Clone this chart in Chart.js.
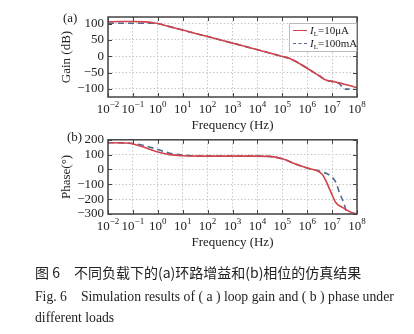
<!DOCTYPE html>
<html>
<head>
<meta charset="utf-8">
<script src="https://cdn.jsdelivr.net/npm/chart.js@4.4.1/dist/chart.umd.min.js"></script>
<style>
  body { margin: 0; background: #fff; width: 414px; height: 334px; position: relative; overflow: hidden; font-family: "Liberation Serif", serif; color: #222; }
  canvas { position: absolute; left: 0; }
  #gain-chart { top: 0; }
  #phase-chart { top: 128px; }
  .panel { position: absolute; font-size: 13px; }
  .legend { position: absolute; left: 289px; top: 23px; width: 66px; height: 27px; border: 1px solid #bbb; background: #fff; font-size: 11px; line-height: 12px; }
  .legend div { position: relative; height: 12.5px; white-space: nowrap; padding-left: 20px; }
  .legend span.s { position: absolute; left: 3px; top: 6px; width: 14px; border-top: 1.5px solid #d2434b; }
  .legend span.d { border-top: 1.5px dashed #4d6c8e; }
  .legend sub { font-size: 7px; vertical-align: -2px; line-height: 0; }
  .cap { position: absolute; left: 35px; white-space: nowrap; }
  .cn { top: 262px; font-family: "Noto Sans CJK SC", sans-serif; font-size: 14px; }
  .en { font-size: 13.7px; }
</style>
</head>
<body>
<canvas id="gain-chart" width="414" height="135"></canvas>
<canvas id="phase-chart" width="414" height="124"></canvas>
<div class="panel" style="left:63px;top:10px;">(a)</div>
<div class="panel" style="left:67px;top:129px;">(b)</div>
<div class="legend">
  <div><span class="s"></span><i>I</i><sub>L</sub>=10μA</div>
  <div><span class="s d"></span><i>I</i><sub>L</sub>=100mA</div>
</div>
<div class="cap cn">图 6　不同负载下的(a)环路增益和(b)相位的仿真结果</div>
<div class="cap en" style="top:288px;">Fig. 6　Simulation results of ( a ) loop gain and ( b ) phase under</div>
<div class="cap en" style="top:310px;">different loads</div>
<script>
// decades shown on the frequency axis
const decades = [1e-2, 1e-1, 1e0, 1e1, 1e2, 1e3, 1e4, 1e5, 1e6, 1e7, 1e8];

// loop gain (dB)
const gainFreqA = [0.01, 0.03, 0.1, 0.3, 0.6, 1, 2, 10, 100, 1e3, 1e4, 1e5, 2e5, 1e6, 3e6, 5.6e6, 1.4e7, 2.5e7, 5e7, 1e8];
const gainA = [105, 106, 106, 105, 103, 100, 94, 80, 60, 40, 20, -1, -7, -37, -60, -73, -79, -84, -90, -97];
const gainFreqB = [0.01, 0.1, 0.3, 0.6, 1, 2, 10, 100, 1e3, 1e4, 1e5, 2e5, 1e6, 3e6, 5.6e6, 1.4e7, 2e7, 3e7, 5e7];
const gainB = [101, 101, 101, 101, 100, 94, 80, 60, 40, 20, -1, -7, -37, -60, -73, -80, -85, -100, -101];
const gainTicks = [-100, -50, 0, 50, 100];

// phase (deg)
const phaseFreqA = [0.01, 0.05, 0.1, 0.3, 1, 3, 10, 100, 1e3, 1e4, 3e4, 1e5, 3e5, 1e6, 4e6, 5.5e6, 8.7e6, 1.4e7, 2.5e7, 6e7, 1e8];
const phaseA = [180, 178, 172, 148, 118, 100, 93, 90, 90, 90, 88, 72, 40, 10, -32, -72, -148, -222, -254, -290, -300];
const phaseFreqB = [0.01, 0.05, 0.1, 0.3, 1, 3, 10, 100, 1e3, 1e4, 3e4, 1e5, 3e5, 1e6, 4e6, 8.7e6, 1.4e7, 1.9e7, 3e7, 4e7, 5e7];
const phaseB = [180, 179, 176, 160, 135, 110, 97, 90, 90, 90, 88, 72, 40, 10, -17, -43, -85, -148, -230, -294, -300];
const phaseTicks = [-300, -200, -100, 0, 100, 200];

const seriesLabels = ['IL=10μA', 'IL=100mA'];
const RED = '#d2434b';
const BLUE = '#4d6c8e';

function toPoints(xs, ys) {
    return xs.map((x, i) => ({ x: x, y: ys[i] }));
}

// frame, inner ticks and 10^n labels
const framePlugin = {
    id: 'frame',
    afterDraw(chart) {
        const { ctx, chartArea: a, scales: { x, y } } = chart;
        ctx.save();
        ctx.strokeStyle = '#444';
        ctx.lineWidth = 1;
        ctx.beginPath();
        y.ticks.forEach(t => {
            const py = Math.round(y.getPixelForValue(t.value)) + 0.5;
            ctx.moveTo(a.left, py); ctx.lineTo(a.left + 4, py);
            ctx.moveTo(a.right, py); ctx.lineTo(a.right - 4, py);
        });
        x.ticks.forEach(t => {
            const px = Math.round(x.getPixelForValue(t.value)) + 0.5;
            ctx.moveTo(px, a.bottom); ctx.lineTo(px, a.bottom - 4);
            ctx.moveTo(px, a.top); ctx.lineTo(px, a.top + 4);
        });
        ctx.stroke();
        ctx.lineWidth = 1.5;
        ctx.strokeRect(a.left, a.top, a.width, a.height);

        ctx.fillStyle = '#222';
        ctx.textBaseline = 'middle';
        ctx.textAlign = 'left';
        x.ticks.forEach(t => {
            const px = x.getPixelForValue(t.value);
            const exp = String(Math.round(Math.log10(t.value))).replace('-', '−');
            ctx.font = '13px "Liberation Serif"';
            const wb = ctx.measureText('10').width;
            ctx.font = '9px "Liberation Serif"';
            const we = ctx.measureText(exp).width;
            const x0 = px - (wb + we) / 2;
            ctx.font = '13px "Liberation Serif"';
            ctx.fillText('10', x0, a.bottom + 13);
            ctx.font = '9px "Liberation Serif"';
            ctx.fillText(exp, x0 + wb, a.bottom + 8);
        });
        ctx.restore();
    }
};

function makeChart(id, opts) {
    const ctx = document.getElementById(id).getContext('2d');
    return new Chart(ctx, {
        type: 'line',
        data: {
            datasets: [{
                label: seriesLabels[0],
                data: toPoints(opts.xa, opts.ya),
                borderColor: RED,
                borderWidth: 1.6,
                pointRadius: 0,
                cubicInterpolationMode: 'monotone',
                order: 1
            }, {
                label: seriesLabels[1],
                data: toPoints(opts.xb, opts.yb),
                borderColor: BLUE,
                borderWidth: 1.6,
                borderDash: [6, 4],
                pointRadius: 0,
                cubicInterpolationMode: 'monotone',
                order: 2
            }]
        },
        options: {
            responsive: false,
            animation: false,
            devicePixelRatio: 1,
            layout: { padding: { top: opts.top, right: 57, left: 0, bottom: 0 } },
            plugins: { legend: { display: false }, tooltip: { enabled: false } },
            scales: {
                x: {
                    type: 'logarithmic',
                    min: 1e-2,
                    max: 1e8,
                    afterBuildTicks: s => { s.ticks = decades.map(v => ({ value: v })); },
                    afterFit: s => { s.height = opts.xh; },
                    ticks: { display: false, autoSkip: false },
                    grid: { color: '#c8c8c8', drawTicks: false },
                    border: { display: false, dash: [1.5, 2] },
                    title: {
                        display: true,
                        text: 'Frequency (Hz)',
                        color: '#222',
                        font: { family: 'Liberation Serif', size: 13 },
                        padding: { top: 0, bottom: 2 }
                    }
                },
                y: {
                    min: opts.min,
                    max: opts.max,
                    afterBuildTicks: s => { s.ticks = opts.ticks.map(v => ({ value: v })); },
                    afterFit: s => { s.width = 108; },
                    ticks: {
                        color: '#222',
                        padding: 4,
                        autoSkip: false,
                        font: { family: 'Liberation Serif', size: 13 },
                        callback: v => String(v).replace('-', '−')
                    },
                    grid: { color: '#c8c8c8', drawTicks: false },
                    border: { display: false, dash: [1.5, 2] },
                    title: {
                        display: true,
                        text: opts.title,
                        color: '#222',
                        font: { family: 'Liberation Serif', size: 13 },
                        padding: { top: 59, bottom: 0 }
                    }
                }
            }
        },
        plugins: [framePlugin]
    });
}

makeChart('gain-chart', {
    xa: gainFreqA, ya: gainA, xb: gainFreqB, yb: gainB,
    min: -125, max: 120, ticks: gainTicks, title: 'Gain (dB)', top: 17, xh: 38
});
makeChart('phase-chart', {
    xa: phaseFreqA, ya: phaseA, xb: phaseFreqB, yb: phaseB,
    min: -300, max: 200, ticks: phaseTicks, title: 'Phase(°)', top: 7, xh: 38
});
</script>
</body>
</html>
